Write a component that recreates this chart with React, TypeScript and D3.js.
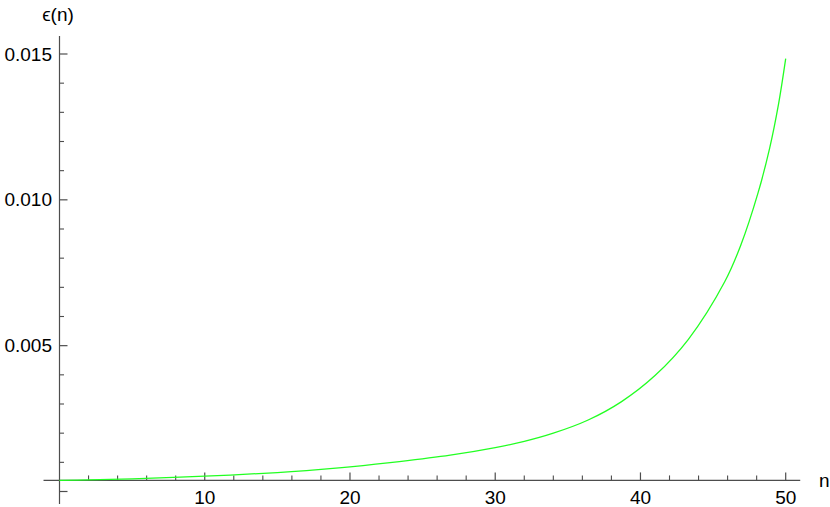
import React from "react";
import * as d3 from "d3";

const nValues = [0, 2, 5, 10, 15, 17, 20, 23.4, 26.9, 30, 32, 34, 36.4, 38.7, 41, 43.3, 45.8, 46.9, 48.1, 48.9, 49.5, 50];
const epsValues = [
  0.00038, 0.0004, 0.000435, 0.000525, 0.000648, 0.000717, 0.000847, 0.001025, 0.001245, 0.001505, 0.001718,
  0.001999, 0.002451, 0.003082, 0.003974, 0.005218, 0.00719, 0.008434, 0.010245, 0.011781, 0.013262, 0.014839,
];
const xMajorTicks = [10, 20, 30, 40, 50];
const xMinorTicks = [2, 4, 6, 8, 12, 14, 16, 18, 22, 24, 26, 28, 32, 34, 36, 38, 42, 44, 46, 48];
const yMajorTicks = [0, 0.005, 0.01, 0.015];
const yMajorLabels = ["", "0.005", "0.010", "0.015"];
const yMinorTicks = [0.001, 0.002, 0.003, 0.004, 0.006, 0.007, 0.008, 0.009, 0.011, 0.012, 0.013, 0.014];

const W = 830;
const H = 507;

export default function App() {
  const x = d3.scaleLinear().domain([0, 50]).range([59.5, 785.7]);
  const y = d3.scaleLinear().domain([0, 0.015]).range([491.5, 54]);
  const yAxisY = y(d3.min(epsValues) as number);
  const axisColor = "#4d4d4d";
  const font = "'Liberation Sans', Arial, sans-serif";

  const line = d3
    .line<number>()
    .x((_, i) => x(nValues[i]))
    .y((d) => y(d))
    .curve(d3.curveCatmullRom.alpha(0.5));

  const x0 = x(0);

  return (
    <svg width={W} height={H} style={{ position: "absolute", left: 0, top: 0 }} fontFamily={font}>
      <rect width={W} height={H} fill="#fff" />
      {/* x axis */}
      <line x1={x(-1.1)} x2={x(51)} y1={yAxisY} y2={yAxisY} stroke={axisColor} strokeWidth={1.2} />
      {xMajorTicks.map((t) => (
        <g key={"xm" + t}>
          <line x1={x(t)} x2={x(t)} y1={yAxisY} y2={yAxisY - 8} stroke={axisColor} strokeWidth={1.2} />
          <text x={x(t)} y={504} textAnchor="middle" fontSize={19} fill="#000">
            {t}
          </text>
        </g>
      ))}
      {xMinorTicks.map((t) => (
        <line key={"xn" + t} x1={x(t)} x2={x(t)} y1={yAxisY} y2={yAxisY - 5} stroke={axisColor} strokeWidth={1.1} />
      ))}
      {/* y axis */}
      <line x1={x0} x2={x0} y1={36} y2={504} stroke={axisColor} strokeWidth={1.2} />
      {yMajorTicks.map((t, i) => (
        <g key={"ym" + t}>
          <line x1={x0} x2={x0 + 8} y1={y(t)} y2={y(t)} stroke={axisColor} strokeWidth={1.2} />
          {yMajorLabels[i] && (
            <text x={52} y={y(t)} dy="0.35em" textAnchor="end" fontSize={19} fill="#000">
              {yMajorLabels[i]}
            </text>
          )}
        </g>
      ))}
      {yMinorTicks.map((t) => (
        <line key={"yn" + t} x1={x0} x2={x0 + 4.5} y1={y(t)} y2={y(t)} stroke={axisColor} strokeWidth={1.1} />
      ))}
      {/* axis labels */}
      <text x={58} y={21} textAnchor="middle" fontSize={19} fill="#000">
        ϵ(n)
      </text>
      <text x={819} y={487} fontSize={19} fill="#000">
        n
      </text>
      {/* curve */}
      <path d={line(epsValues) || ""} fill="none" stroke="#22ff22" strokeWidth={1.3} />
    </svg>
  );
}
